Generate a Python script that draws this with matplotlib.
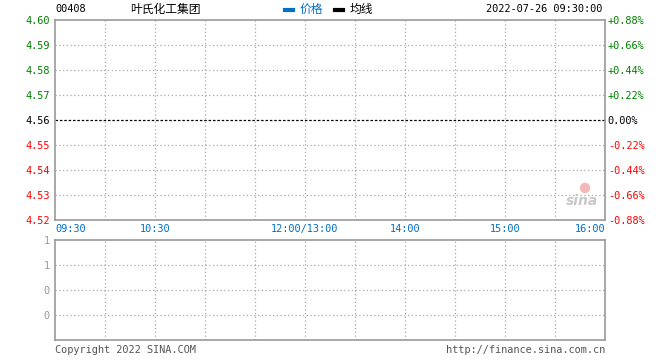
import matplotlib
matplotlib.use('Agg')
import matplotlib.pyplot as plt
from matplotlib.patches import Ellipse

# chart data
code = '00408'
name = '叶氏化工集团'
stamp = '2022-07-26 09:30:00'
prev_close = 4.56
price_ticks = [4.60, 4.59, 4.58, 4.57, 4.56, 4.55, 4.54, 4.53, 4.52]
time_labels = ['09:30', '10:30', '12:00/13:00', '14:00', '15:00', '16:00']
time_pos = [0, 60, 150, 210, 270, 330]   # minutes of trading since open
vol_ticks = [1, 0.75, 0.5, 0.25]
vol_labels = ['1', '1', '0', '0']

W, H = 660, 360
fig = plt.figure(figsize=(W / 100, H / 100), dpi=100)
mono = 'DejaVu Sans Mono'
fs = 7.4
green, red, blue, gray = '#008000', '#ff0000', '#0070c8', '#999999'
grid = '#a8a8a8'

def box(x0, y0, x1, y1):
    return fig.add_axes([x0 / W, 1 - y1 / H, (x1 - x0) / W, (y1 - y0) / H])

ax = box(55, 20, 605, 220)
vx = box(55, 240, 605, 340)

for a in (ax, vx):
    a.set_xlim(0, 330)
    for s in a.spines.values():
        s.set_color(gray); s.set_linewidth(1.2)
    for m in range(30, 330, 30):
        a.axvline(m, color=grid, lw=0.9, ls=(0, (1, 2)))
    a.tick_params(length=0)
    a.set_xticks([])

ax.set_ylim(price_ticks[-1], price_ticks[0])
ax.set_yticks(price_ticks)
ax.set_yticklabels(['%.2f' % p for p in price_ticks], family=mono, fontsize=fs)
for p in price_ticks[1:-1]:
    if p == prev_close:
        ax.axhline(p, color='black', lw=0.9, ls=(0, (2, 1.5)))
    else:
        ax.axhline(p, color=grid, lw=0.9, ls=(0, (1, 2)))

def pcolor(p):
    return green if p > prev_close + 1e-9 else red if p < prev_close - 1e-9 else 'black'

for lab, p in zip(ax.get_yticklabels(), price_ticks):
    lab.set_color(pcolor(p))
ax.tick_params(axis='y', pad=4)

rx = ax.twinx()
rx.set_ylim(ax.get_ylim())
rx.set_yticks(price_ticks)
pct = []
for p in price_ticks:
    v = (p - prev_close) / prev_close * 100
    pct.append('0.00%' if abs(v) < 1e-9 else '%+.2f%%' % v)
rx.set_yticklabels(pct, family=mono, fontsize=fs)
for lab, p in zip(rx.get_yticklabels(), price_ticks):
    lab.set_color(pcolor(p))
rx.tick_params(length=0, pad=2)
for s in rx.spines.values():
    s.set_visible(False)

# time labels under price panel
for t, m in zip(time_labels, time_pos):
    ha = 'left' if m == 0 else 'right' if m == 330 else 'center'
    ax.text(m, -0.02, t, transform=ax.get_xaxis_transform(), ha=ha, va='top',
            color=blue, family=mono, fontsize=fs)

vx.set_ylim(0, 1)
vx.set_yticks(vol_ticks)
vx.set_yticklabels(vol_labels, family=mono, fontsize=fs, color=gray)
for v in vol_ticks[1:]:
    vx.axhline(v, color=grid, lw=0.9, ls=(0, (1, 2)))
vx.tick_params(axis='y', pad=4)

# header
def px(x, y, s, **kw):
    fig.text(x / W, 1 - y / H, s, **kw)

cjk = ['Noto Sans CJK SC', 'DejaVu Sans']
px(55, 9, code, family=mono, fontsize=fs, color='black', va='center')
px(130, 9, name, family=cjk, fontsize=8.5, color='black', va='center')
fig.add_artist(plt.Line2D([285 / W, 293 / W], [1 - 10 / H] * 2, color=blue, lw=3))
px(300, 9, '价格', family=cjk, fontsize=8.5, color=blue, va='center')
fig.add_artist(plt.Line2D([335 / W, 343 / W], [1 - 10 / H] * 2, color='black', lw=3))
px(350, 9, '均线', family=cjk, fontsize=8.5, color='black', va='center')
px(602, 9, stamp, family=mono, fontsize=fs, color='black', va='center', ha='right')

# watermark
px(582, 201, 'sina', family='DejaVu Sans', fontsize=10, style='italic', weight='bold',
   color='#c8c8c8', ha='center', va='center')
fig.add_artist(Ellipse((585 / W, 1 - 188 / H), 9 / W, 9 / H, color='#f4b8b8',
                       transform=fig.transFigure))

# footer
px(55, 350, 'Copyright 2022 SINA.COM', family=mono, fontsize=fs, color='#555555', va='center')
px(605, 350, 'http://finance.sina.com.cn', family=mono, fontsize=fs, color='#555555', va='center', ha='right')

fig.savefig('out.png', dpi=100)
